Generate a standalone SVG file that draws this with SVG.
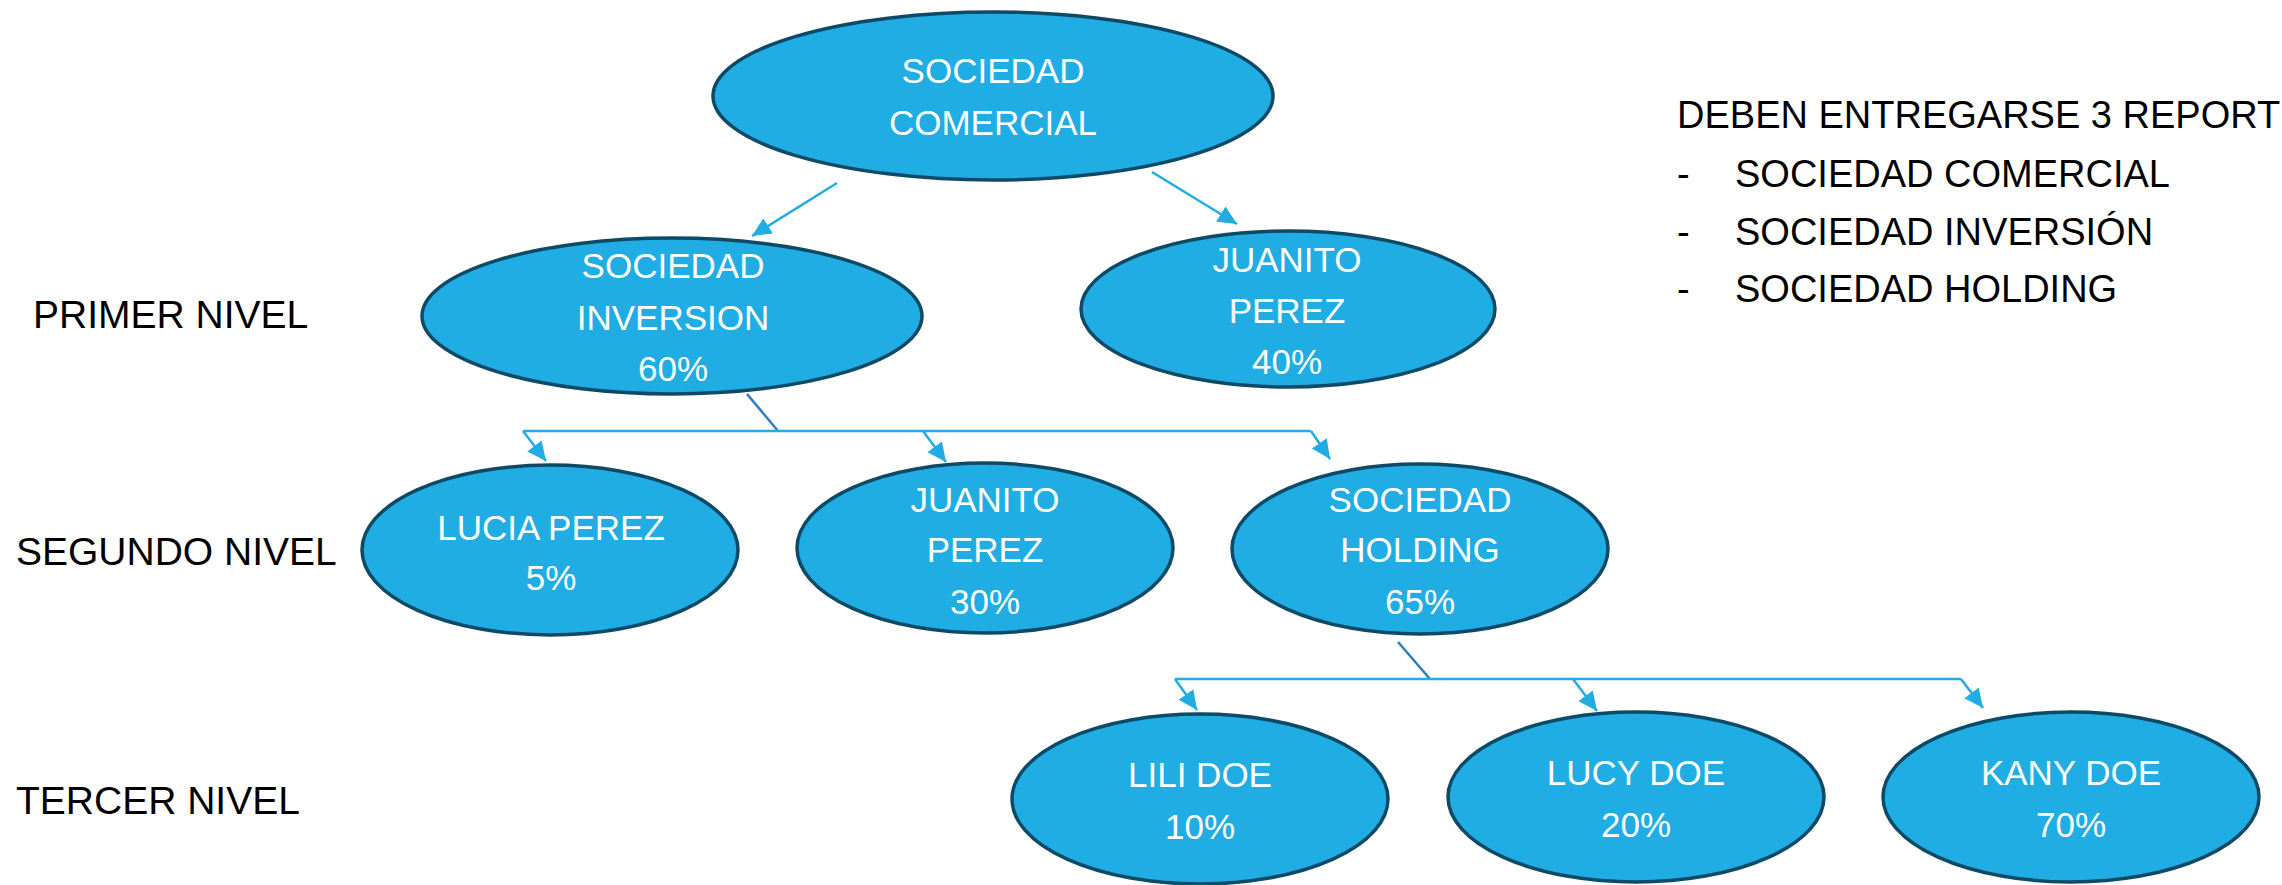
<svg xmlns="http://www.w3.org/2000/svg" width="2282" height="885" viewBox="0 0 2282 885">
<style>
.node{fill:#1fade3;stroke:#0e4a66;stroke-width:3.5}
.nt{font-family:"Liberation Sans",Arial,sans-serif;font-size:35px;fill:#ffffff;text-anchor:middle}
.lbl{font-family:"Liberation Sans",Arial,sans-serif;font-size:39px;fill:#000000}
.lst{font-family:"Liberation Sans",Arial,sans-serif;font-size:38px;fill:#000000}
.c{stroke:#1fade3;stroke-width:2.5;fill:none}
.d{stroke:#2b7cc4;stroke-width:2.5;fill:none}
</style>
<defs>
<marker id="ah" markerUnits="userSpaceOnUse" markerWidth="20" markerHeight="18" refX="19" refY="9" orient="auto">
<path d="M0,0 L19,9 L0,18 z" fill="#1fade3"/>
</marker>
</defs>
<rect width="2282" height="885" fill="#ffffff"/>
<g id="connectors">
<line class="c" x1="837" y1="183" x2="752" y2="236" marker-end="url(#ah)"/>
<line class="c" x1="1152" y1="172" x2="1237" y2="224" marker-end="url(#ah)"/>
<line class="d" x1="747" y1="394" x2="778" y2="431"/>
<line class="c" x1="523" y1="431" x2="1311" y2="431"/>
<line class="c" x1="523" y1="431" x2="546" y2="461" marker-end="url(#ah)"/>
<line class="c" x1="923" y1="431" x2="946" y2="462" marker-end="url(#ah)"/>
<line class="c" x1="1311" y1="431" x2="1330" y2="459" marker-end="url(#ah)"/>
<line class="d" x1="1398" y1="642" x2="1430" y2="679"/>
<line class="c" x1="1175" y1="679" x2="1961" y2="679"/>
<line class="c" x1="1175" y1="679" x2="1197" y2="710" marker-end="url(#ah)"/>
<line class="c" x1="1573" y1="679" x2="1597" y2="711" marker-end="url(#ah)"/>
<line class="c" x1="1961" y1="679" x2="1983" y2="708" marker-end="url(#ah)"/>
</g>
<g id="n-comercial">
<ellipse class="node" cx="993" cy="96" rx="280" ry="84"/>
<text class="nt" x="993" y="83">SOCIEDAD</text>
<text class="nt" x="993" y="135">COMERCIAL</text>
</g>
<g id="n-inversion">
<ellipse class="node" cx="672" cy="316" rx="250" ry="78"/>
<text class="nt" x="673" y="278">SOCIEDAD</text>
<text class="nt" x="673" y="330">INVERSION</text>
<text class="nt" x="673" y="381">60%</text>
</g>
<g id="n-juanito1">
<ellipse class="node" cx="1288" cy="309" rx="207" ry="78"/>
<text class="nt" x="1287" y="272">JUANITO</text>
<text class="nt" x="1287" y="323">PEREZ</text>
<text class="nt" x="1287" y="374">40%</text>
</g>
<g id="n-lucia">
<ellipse class="node" cx="550" cy="550" rx="188" ry="85"/>
<text class="nt" x="551" y="540">LUCIA PEREZ</text>
<text class="nt" x="551" y="590">5%</text>
</g>
<g id="n-juanito2">
<ellipse class="node" cx="985" cy="548" rx="188" ry="85"/>
<text class="nt" x="985" y="512">JUANITO</text>
<text class="nt" x="985" y="562">PEREZ</text>
<text class="nt" x="985" y="614">30%</text>
</g>
<g id="n-holding">
<ellipse class="node" cx="1420" cy="549" rx="188" ry="85"/>
<text class="nt" x="1420" y="512">SOCIEDAD</text>
<text class="nt" x="1420" y="562">HOLDING</text>
<text class="nt" x="1420" y="614">65%</text>
</g>
<g id="n-lili">
<ellipse class="node" cx="1200" cy="799" rx="188" ry="85"/>
<text class="nt" x="1200" y="787">LILI DOE</text>
<text class="nt" x="1200" y="839">10%</text>
</g>
<g id="n-lucy">
<ellipse class="node" cx="1636" cy="797" rx="188" ry="85"/>
<text class="nt" x="1636" y="785">LUCY DOE</text>
<text class="nt" x="1636" y="837">20%</text>
</g>
<g id="n-kany">
<ellipse class="node" cx="2071" cy="797" rx="188" ry="85"/>
<text class="nt" x="2071" y="785">KANY DOE</text>
<text class="nt" x="2071" y="837">70%</text>
</g>
<g id="levels">
<text class="lbl" x="33" y="328">PRIMER NIVEL</text>
<text class="lbl" x="16" y="565">SEGUNDO NIVEL</text>
<text class="lbl" x="16" y="814">TERCER NIVEL</text>
</g>
<g id="note">
<text class="lst" x="1677" y="128">DEBEN ENTREGARSE 3 REPORTE</text>
<text class="lst" x="1677" y="187">-</text>
<text class="lst" x="1735" y="187">SOCIEDAD COMERCIAL</text>
<text class="lst" x="1677" y="245">-</text>
<text class="lst" x="1735" y="245">SOCIEDAD INVERSIÓN</text>
<text class="lst" x="1677" y="302">-</text>
<text class="lst" x="1735" y="302">SOCIEDAD HOLDING</text>
</g>
</svg>
